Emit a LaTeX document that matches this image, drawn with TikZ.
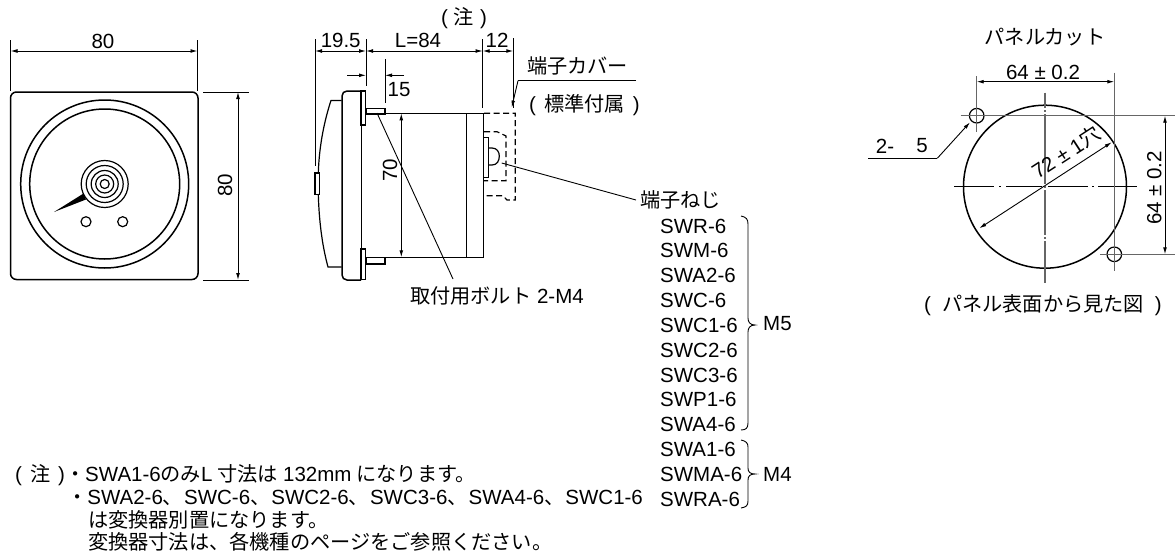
\documentclass[tikz,border=0pt]{standalone}
\usepackage{fontspec}
\setmainfont{Liberation Sans}
\newfontfamily\jp[Scale=0.985]{Noto Sans CJK JP}
\usetikzlibrary{arrows.meta}
\newcommand{\J}[1]{{\jp #1}}
\tikzset{
  thin line/.style={line width=0.9pt},
  grey line/.style={line width=1.2pt,color=black!60},
  outline/.style={line width=1.5pt},
  dim/.style={thin line,{Latex[length=7pt,width=3.8pt]}-{Latex[length=7pt,width=3.8pt]}},
  tip/.style={thin line,-{Latex[length=7pt,width=3.8pt]}},
  label/.style={inner sep=0pt,font=\fontsize{20.5}{23}\selectfont},
  listitem/.style={label,anchor=west},
  hidden/.style={line width=1.2pt,dash pattern=on 6pt off 3.5pt},
}
\begin{document}
\begin{tikzpicture}[x=1pt,y=-1pt]
\useasboundingbox (0,0) rectangle (1176,557);
% ---------- front view
\coordinate (fc) at (104.7,184);
\draw[outline,rounded corners=6pt] (10.5,92) rectangle (198,279.5);
\draw[outline] (fc) circle (84);
\draw[outline] (fc) circle (75);
\foreach \r in {23.5,18.5,13.5,9,4.5} \draw[line width=1.2pt] (fc) circle (\r);
\fill (54,212) -- (83.5,193.5) -- (86,199.5) -- cycle;
\draw[line width=1.2pt] (86,221.7) circle (5);
\draw[line width=1.2pt] (122.7,221.7) circle (5);
\coordinate (a1) at (10.5,51); \coordinate (a2) at (197.5,51);
\draw[thin line] (10.5,40) -- (10.5,91) (197.5,40) -- (197.5,91);
\draw[dim] (a1) -- (a2);
\node[label] (t80a) at (103,41) {80};
\coordinate (b1) at (238,92); \coordinate (b2) at (238,280);
\draw[thin line] (203,92) -- (249,92) (203,280) -- (249,280);
\draw[dim] (b1) -- (b2);
\node[label,rotate=90] (t80b) at (225,185) {80};
% ---------- side view
\draw[thin line] (315,39) -- (315,166) (366,39) -- (366,86) (482.7,39) -- (482.7,108) (513.3,38) -- (513.3,108);
\coordinate (c1) at (315,51); \coordinate (c2) at (366,51); \coordinate (c3) at (482.7,51); \coordinate (c4) at (513.3,51);
\draw[dim] (c1) -- (c2); \draw[dim] (c2) -- (c3); \draw[dim] (c3) -- (c4);
\node[label] (t195) at (340.7,40) {19.5};
\node[label] (tL) at (418,40) {L=84};
\node[label] (t12) at (497,40) {12};
\node[label] (tnote) at (464,18) {(\hspace{6pt}\J{注}\hspace{6pt})};
\draw[thin line] (385,59) -- (385,103);
\draw[tip] (347,75.3) -- (366,75.3);
\draw[tip] (404,75.3) -- (385,75.3);
\node[label] (t15) at (399,90) {15};
% bezel
\draw[outline,rounded corners=5pt] (361,91) -- (342,91) -- (342,280) -- (361,280);
\draw[outline] (361,91) rectangle (365.7,125);
\draw[outline] (361,249) rectangle (365.7,279.3);
\draw[outline] (361.7,125) -- (361.7,249);
% dome
\draw[line width=1.2pt] (341.7,100.4) -- (331,100.4) .. controls (323,125) and (319,150) .. (318.3,173);
\draw[line width=1.2pt] (318.3,194) .. controls (319,220) and (322,245) .. (328,267) -- (341.7,267);
\draw[line width=1.2pt] (315,173) rectangle (319.3,194.3);
% body
\draw[outline] (366,113.3) -- (483.3,113.3) -- (483.3,257.3) -- (366,257.3);
\draw[outline] (466.7,113.3) -- (466.7,257.3);
\draw[line width=1.2pt] (366,108.3) rectangle (385,114);
\draw[line width=1.2pt] (366,257.3) rectangle (385,264);
% terminal
\draw[line width=1.2pt] (483.3,137.3) rectangle (488.3,177.3);
\draw[line width=1.2pt] (488.3,148) -- (492,148) .. controls (497,148) and (499.3,152) .. (499.3,156) .. controls (499.3,161) and (497,165) .. (492,165) -- (488.3,165);
% cover
\draw[hidden] (484,113.3) -- (515.3,113.3) -- (515.3,200) -- (507,200) -- (503,195.7) -- (484,195.7);
\draw[hidden] (484,131.7) -- (497,131.7) -- (506,136) -- (506,180.7) -- (484,180.7);
% 70
\coordinate (d1) at (401.3,113.3); \coordinate (d2) at (401.3,257.3);
\draw[dim] (d1) -- (d2);
\node[label,rotate=90] (t70) at (390,170) {70};
% leaders
\node[label,anchor=west] (tbolt) at (410,296) {\J{取付用ボルト} 2-M4};
\coordinate (boltp) at (377,113);
\draw[thin line] (boltp) -- (453,279);
\node[label,anchor=west,outer sep=4pt] (tscrew) at (636,200) {\J{端子ねじ}};
\coordinate (screwp) at (501.7,163);
\draw[thin line] (screwp) -- (tscrew.west);
\node[label,anchor=west] (tcover) at (527,66) {\J{端子カバー}};
\node[label,anchor=west] (tstd) at (529,105) {(\hspace{8pt}\J{標準付属}\hspace{8pt})};
\coordinate (covk) at (518,80.7); \coordinate (covp) at (511.7,107.5); \coordinate (cove) at (636,80.7);
\draw[thin line] (cove) -- (covk);
\draw[tip] (covk) -- (covp);
% ---------- list
\node[listitem] (l1) at (660,226.7) {SWR-6};
\node[listitem] (l2) at (660,250.7) {SWM-6};
\node[listitem] (l3) at (660,275.7) {SWA2-6};
\node[listitem] (l4) at (660,300) {SWC-6};
\node[listitem] (l5) at (660,325) {SWC1-6};
\node[listitem] (l6) at (660,350.7) {SWC2-6};
\node[listitem] (l7) at (660,375) {SWC3-6};
\node[listitem] (l8) at (660,399) {SWP1-6};
\node[listitem] (l9) at (660,424) {SWA4-6};
\node[listitem] (l10) at (660,449) {SWA1-6};
\node[listitem] (l11) at (660,474) {SWMA-6};
\node[listitem] (l12) at (660,499) {SWRA-6};
\draw[thin line] (741,216) .. controls (746,217) and (748,219) .. (748,224) -- (748,318) .. controls (748,322) and (750,325) .. (755,325) .. controls (750,325) and (748,328) .. (748,332) -- (748,423) .. controls (748,428) and (746,430) .. (741,430);
\draw[thin line] (741,440) .. controls (746,441) and (748,443) .. (748,447) -- (748,468) .. controls (748,472) and (750,474) .. (755,474) .. controls (750,474) and (748,476) .. (748,480) -- (748,501) .. controls (748,506) and (746,507) .. (741,508);
\node[listitem] (m5) at (763,324) {M5};
\node[listitem] (m4) at (763,474) {M4};
% ---------- notes
\node[label,anchor=west] (n1) at (15,475.5) {(\hspace{8pt}\J{注}\hspace{8pt})\J{・}SWA1-6\J{のみ}L\hspace{5pt}\J{寸法は}\hspace{5pt}132mm\hspace{5pt}\J{になります。}};
\node[label,anchor=west] (n2) at (67,498) {\J{・}SWA2-6\J{、}\hspace{1pt}SWC-6\J{、}\hspace{1pt}SWC2-6\J{、}\hspace{1pt}SWC3-6\J{、}\hspace{1pt}SWA4-6\J{、}\hspace{1pt}SWC1-6};
\node[label,anchor=west] (n3) at (88,520) {\J{は変換器別置になります。}};
\node[label,anchor=west] (n4) at (88,542) {\J{変換器寸法は、各機種のページをご参照ください。}};
% ---------- panel cut
\coordinate (pc) at (1045,186.7);
\node[draw,outline,circle,minimum size=163pt,inner sep=0pt] (bigc) at (pc) {};
\node[draw,line width=1.2pt,circle,minimum size=14.6pt,inner sep=0pt] (h1) at (976.7,115.7) {};
\node[draw,line width=1.2pt,circle,minimum size=14.6pt,inner sep=0pt] (h2) at (1114.3,254.3) {};
\draw[thin line,line width=1pt] (954,186.7) -- (994,186.7) (999,186.7) -- (1001,186.7) (1006,186.7) -- (1042,186.7) (1044,186.7) -- (1046,186.7) (1048,186.7) -- (1088,186.7) (1092,186.7) -- (1094,186.7) (1098,186.7) -- (1137,186.7);
\draw[grey line] (1045,92.7) -- (1045,108) (1045,110) -- (1045,112) (1045,114) -- (1045,184) (1045,186) -- (1045,188) (1045,190) -- (1045,235) (1045,237) -- (1045,239) (1045,241) -- (1045,282.7);
\draw[grey line] (960.7,115.7) -- (1175,115.7) (976.7,76) -- (976.7,131.7) (1114.3,72.7) -- (1114.3,270.7) (1100,254.3) -- (1175,254.3);
\coordinate (e1) at (976.7,81.7); \coordinate (e2) at (1114.3,81.7);
\draw[dim] (e1) -- (e2);
\coordinate (f1) at (1165,115.7); \coordinate (f2) at (1165,254.3);
\draw[dim] (f1) -- (f2);
\node[label] (t64a) at (1043,72) {64 ± 0.2};
\node[label,rotate=90] (t64b) at (1154.3,188) {64 ± 0.2};
\node[label] (tpc) at (1045,36.7) {\J{パネルカット}};
\node[label] (tpv) at (1043,305) {(\hspace{11pt}\J{パネル表面から見た図}\hspace{11pt})};
\coordinate (g1) at (868.3,158.3); \coordinate (g2) at (937.3,158.3); \coordinate (g3) at (970,122.3);
\draw[thin line] (g1) -- (g2);
\draw[tip] (g2) -- (g3);
\node[label] (t2) at (885,146) {2-};
\node[label] (t5) at (922,146) {5};
\coordinate (k1) at (979.3,228.3); \coordinate (k2) at (1111.7,142.3);
\draw[dim] (k1) -- (k2);
\node[label,rotate=33] (t72) at (1066,152.5) {72 ± 1\J{穴}};
\end{tikzpicture}
\end{document}
